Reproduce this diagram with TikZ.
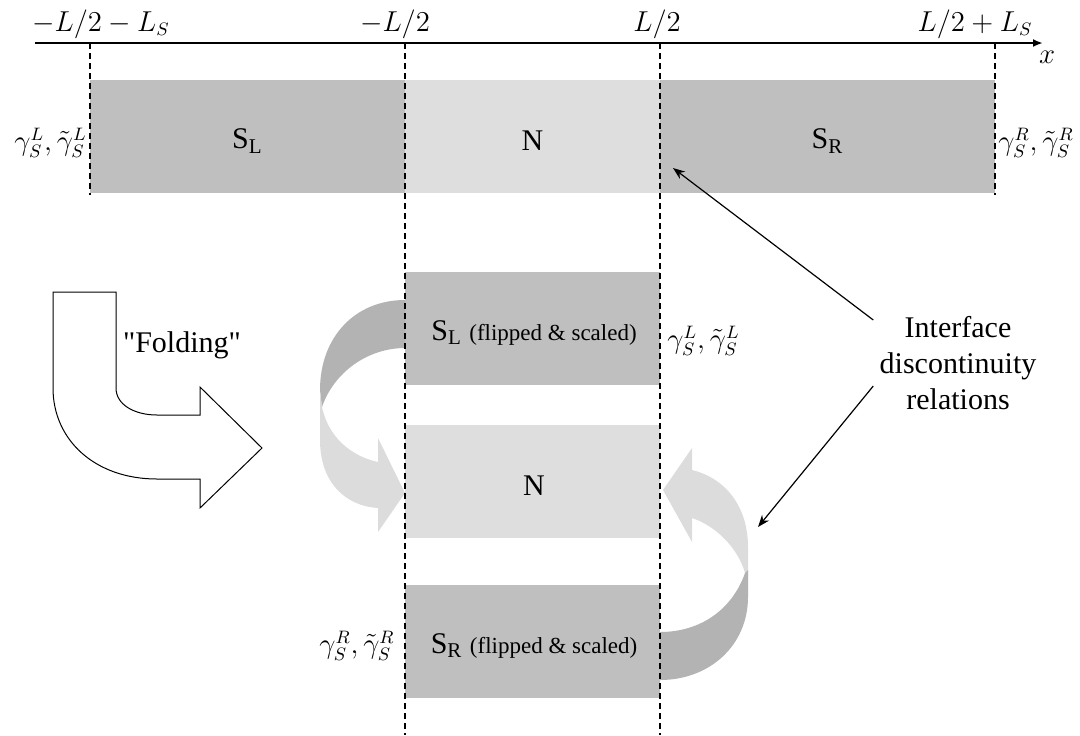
\documentclass[tikz,border=0pt]{standalone}
\usepackage{fontspec}
\setmainfont{Liberation Serif}
\usetikzlibrary{arrows.meta,calc}
\definecolor{supergray}{HTML}{BFBFBF}
\definecolor{normalgray}{HTML}{DEDEDE}
\definecolor{twistdark}{HTML}{B3B3B3}
\definecolor{twistlight}{HTML}{DCDCDC}
\newcommand\straightquote{\XeTeXglyph\XeTeXcharglyph"22\relax}

\begin{document}
\begin{tikzpicture}[x=0.5pt,y=-0.5pt,
    lbl/.style={font=\fontsize{15}{18}\selectfont, inner sep=0pt},
    mlbl/.style={font=\fontsize{13.5}{16}\selectfont, inner sep=0pt},
    divider/.style={dash pattern=on 3pt off 2pt, line width=0.6pt},
    pointer/.style={-{Stealth[length=6pt,width=4.5pt]}, line width=0.6pt}]
  \useasboundingbox (0,0) rectangle (1080,735);

  % Unfolded junction
  \foreach \xa/\xb/\col/\nm/\txt in {
    90/405/supergray/sl/{S\textsubscript{L}},
    405/660/normalgray/nn/N,
    660/995/supergray/sr/{S\textsubscript{R}}} {
    \fill[\col] (\xa,80) rectangle (\xb,193);
    \node[lbl] (\nm) at ({(\xa+\xb)/2},141) {\txt};
  }

  % Folded junction
  \foreach \ya/\col/\nm/\txt in {
    272/supergray/fsl/{S\textsubscript{L} {\fontsize{11.5}{13}\selectfont(flipped \& scaled)}},
    425/normalgray/fn/N,
    585/supergray/fsr/{S\textsubscript{R} {\fontsize{11.5}{13}\selectfont(flipped \& scaled)}}} {
    \fill[\col] (405,\ya) rectangle (660,\ya+113);
    \node[lbl] (\nm) at (534,\ya+61) {\txt};
  }

  % Twisted arrows
  \fill[twistlight] (320,392) -- (320,440) .. controls (320,482) and (345,506) .. (378,508)
    -- (378,532) -- (405,493) -- (378,438) -- (378,462)
    .. controls (350,456) and (328,436) .. (322,407) -- cycle;
  \fill[twistdark] (405,300) .. controls (355,300) and (320,337) .. (320,390)
    -- (322,407) .. controls (334,372) and (368,348) .. (405,348) -- cycle;
  \fill[twistlight] (748,575) -- (748,547) .. controls (748,506) and (725,478) .. (692,470)
    -- (692,448) -- (663,490) -- (692,542) -- (692,518)
    .. controls (716,526) and (738,548) .. (745,573) -- cycle;
  \fill[twistdark] (660,680) .. controls (710,680) and (748,645) .. (748,597)
    -- (748,570) -- (745,573) .. controls (732,610) and (700,632) .. (660,632) -- cycle;

  % Folding arrow
  \draw[line width=0.5pt, fill=white] (53,292) -- (116,292) -- (116,388)
    .. controls (116,405) and (135,415) .. (157,415) -- (200,415) -- (200,387)
    -- (262,448) -- (200,508) -- (200,479) -- (157,479)
    .. controls (95,479) and (53,440) .. (53,388) -- cycle;
  \node[lbl] (fold) at (182,345) {\straightquote Folding\straightquote};

  % Axis and interfaces
  \draw[line width=1.2pt, -{Latex[length=5pt,width=4pt]}] (35,43) -- (1043,43);
  \node[mlbl] (xlab) at (1047,57) {$x$};
  \foreach \xx/\yy in {90/195, 405/735, 660/735, 995/195}
    \draw[divider] (\xx,43) -- (\xx,\yy);
  \node[mlbl] (pos1) at (101,24) {$-L/2-L_S$};
  \node[mlbl] (pos2) at (395,24) {$-L/2$};
  \node[mlbl] (pos3) at (657,24) {$L/2$};
  \node[mlbl] (pos4) at (975,24) {$L/2+L_S$};

  % Boundary parameters
  \node[mlbl, anchor=east] (gl) at (87,143) {$\gamma_S^L,\tilde{\gamma}_S^L$};
  \node[mlbl, anchor=west] (gr) at (998,143) {$\gamma_S^R,\tilde{\gamma}_S^R$};
  \node[mlbl, anchor=west] (fgl) at (667,341) {$\gamma_S^L,\tilde{\gamma}_S^L$};
  \node[mlbl, anchor=east] (fgr) at (395,646) {$\gamma_S^R,\tilde{\gamma}_S^R$};

  % Interface relations
  \node[lbl, align=center] (iface) at (958,363) {Interface\\discontinuity\\relations};
  \coordinate (hitTop) at (673,168);
  \coordinate (hitBot) at (758,527);
  \draw[pointer] ($(iface.west)+(-6,-43)$) -- (hitTop);
  \draw[pointer] ($(iface.west)+(-6,23)$) -- (hitBot);
\end{tikzpicture}
\end{document}
